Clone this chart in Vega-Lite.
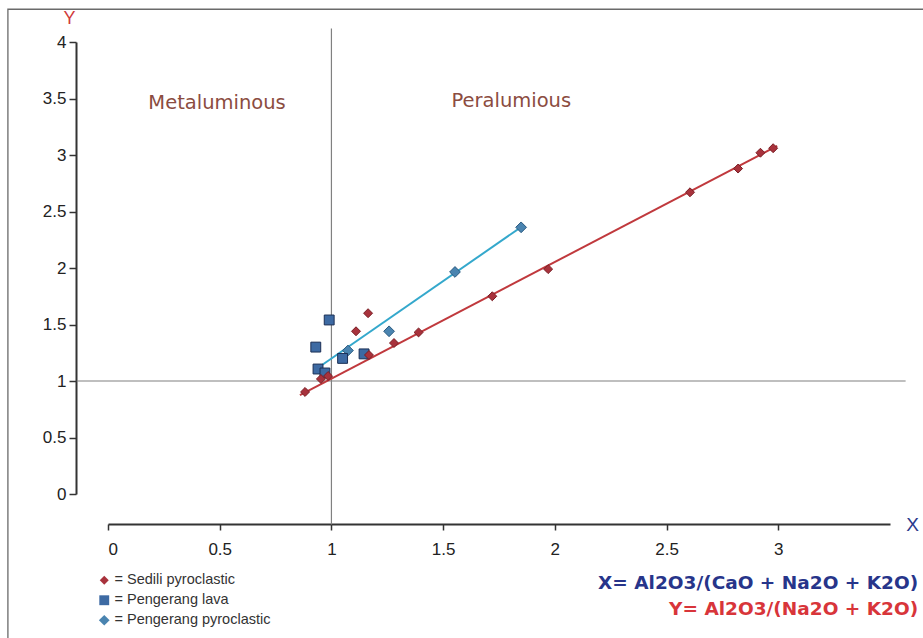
{
  "$schema": "https://vega.github.io/schema/vega-lite/v6.json",
  "width": 782,
  "height": 452,
  "autosize": "none",
  "padding": {"left": 108, "top": 42, "right": 33, "bottom": 144},
  "background": "white",
  "config": {"view": {"stroke": null}, "font": "Liberation Sans"},
  "datasets": {
    "pts": [
      {"s": "Pengerang pyroclastic", "x": 1.074, "y": 1.27},
      {"s": "Pengerang pyroclastic", "x": 1.258, "y": 1.44},
      {"s": "Pengerang pyroclastic", "x": 1.553, "y": 1.965},
      {"s": "Pengerang pyroclastic", "x": 1.849, "y": 2.36},
      {"s": "Pengerang lava", "x": 0.99, "y": 1.54},
      {"s": "Pengerang lava", "x": 0.93, "y": 1.30},
      {"s": "Pengerang lava", "x": 0.94, "y": 1.106},
      {"s": "Pengerang lava", "x": 1.05, "y": 1.20},
      {"s": "Pengerang lava", "x": 1.146, "y": 1.24},
      {"s": "Pengerang lava", "x": 0.971, "y": 1.071},
      {"s": "Sedili pyroclastic", "x": 0.882, "y": 0.903},
      {"s": "Sedili pyroclastic", "x": 0.953, "y": 1.018},
      {"s": "Sedili pyroclastic", "x": 0.985, "y": 1.044},
      {"s": "Sedili pyroclastic", "x": 1.168, "y": 1.23},
      {"s": "Sedili pyroclastic", "x": 1.28, "y": 1.336},
      {"s": "Sedili pyroclastic", "x": 1.39, "y": 1.43},
      {"s": "Sedili pyroclastic", "x": 1.72, "y": 1.75},
      {"s": "Sedili pyroclastic", "x": 1.97, "y": 1.99},
      {"s": "Sedili pyroclastic", "x": 2.605, "y": 2.67},
      {"s": "Sedili pyroclastic", "x": 2.82, "y": 2.88},
      {"s": "Sedili pyroclastic", "x": 2.92, "y": 3.02},
      {"s": "Sedili pyroclastic", "x": 2.977, "y": 3.06},
      {"s": "Sedili pyroclastic", "x": 1.11, "y": 1.44},
      {"s": "Sedili pyroclastic", "x": 1.164, "y": 1.60}
    ],
    "fits": [
      {"s": "Sedili pyroclastic", "x": 0.859, "y": 0.876},
      {"s": "Sedili pyroclastic", "x": 2.995, "y": 3.08},
      {"s": "Pengerang pyroclastic", "x": 0.958, "y": 1.142},
      {"s": "Pengerang pyroclastic", "x": 1.862, "y": 2.38}
    ],
    "fields": [
      {"t": "Metaluminous", "x": 0.488, "y": 3.46},
      {"t": "Peralumious", "x": 1.805, "y": 3.48}
    ]
  },
  "layer": [
    {
      "data": {"values": [{"x": 1, "y": -0.27, "y2": 4.12}]},
      "mark": {"type": "rule", "color": "#808080", "strokeWidth": 1.2},
      "encoding": {
        "x": {
          "field": "x", "type": "quantitative",
          "scale": {"domain": [0, 3.5], "nice": false, "zero": false},
          "axis": {
            "orient": "bottom", "offset": 30, "grid": false,
            "values": [0, 0.5, 1, 1.5, 2, 2.5, 3], "format": "~g",
            "domainColor": "#333", "domainWidth": 2,
            "tickColor": "#333", "tickWidth": 1.5, "tickSize": 6,
            "labelFont": "Liberation Sans", "labelFontSize": 17, "labelColor": "#222", "labelPadding": 11,
            "title": "X", "titleAngle": 0, "titleX": 804, "titleY": 0,
            "titleAlign": "center", "titleBaseline": "middle",
            "titleColor": "#2a3a8c", "titleFontSize": 19, "titleFontWeight": "normal"
          }
        },
        "y": {
          "field": "y", "type": "quantitative",
          "scale": {"domain": [0, 4], "nice": false, "zero": false},
          "axis": {
            "orient": "left", "offset": 32, "grid": false,
            "values": [0, 0.5, 1, 1.5, 2, 2.5, 3, 3.5, 4], "format": "~g",
            "domainColor": "#333", "domainWidth": 2,
            "tickColor": "#333", "tickWidth": 1.5, "tickSize": 7,
            "labelFont": "Liberation Sans", "labelFontSize": 17, "labelColor": "#222", "labelPadding": 3,
            "title": "Y", "titleAngle": 0, "titleX": -7, "titleY": -24,
            "titleAlign": "center", "titleBaseline": "middle",
            "titleColor": "#d03a3a", "titleFontSize": 18, "titleFontWeight": "normal"
          }
        },
        "y2": {"field": "y2"}
      }
    },
    {
      "data": {"values": [{"y": 1, "x": -0.14, "x2": 3.57}]},
      "mark": {"type": "rule", "color": "#808080", "strokeWidth": 1.2},
      "encoding": {
        "x": {"field": "x", "type": "quantitative"},
        "x2": {"field": "x2"},
        "y": {"field": "y", "type": "quantitative"}
      }
    },
    {
      "data": {"values": [{"x": -0.448, "x2": 3.95, "y": 4.29, "y2": -1.6}]},
      "mark": {"type": "rect", "fill": null, "fillOpacity": 0, "stroke": "#6a6a6a", "strokeWidth": 1.3},
      "encoding": {
        "x": {"field": "x", "type": "quantitative"},
        "x2": {"field": "x2"},
        "y": {"field": "y", "type": "quantitative"},
        "y2": {"field": "y2"}
      }
    },
    {
      "data": {"name": "fits"},
      "transform": [{"filter": "datum.s === 'Sedili pyroclastic'"}],
      "mark": {"type": "line", "color": "#c0393d", "strokeWidth": 2},
      "encoding": {
        "x": {"field": "x", "type": "quantitative"},
        "y": {"field": "y", "type": "quantitative"}
      }
    },
    {
      "data": {"name": "fits"},
      "transform": [{"filter": "datum.s === 'Pengerang pyroclastic'"}],
      "mark": {"type": "line", "color": "#34a8cc", "strokeWidth": 2},
      "encoding": {
        "x": {"field": "x", "type": "quantitative"},
        "y": {"field": "y", "type": "quantitative"}
      }
    },
    {
      "data": {"name": "pts"},
      "mark": {"type": "point", "filled": true, "opacity": 1, "strokeWidth": 1},
      "encoding": {
        "x": {"field": "x", "type": "quantitative"},
        "y": {"field": "y", "type": "quantitative"},
        "color": {
          "field": "s", "type": "nominal",
          "scale": {"domain": ["Sedili pyroclastic", "Pengerang lava", "Pengerang pyroclastic"], "range": ["#a8323c", "#3d6aa3", "#4a84b0"]},
          "legend": {
            "orient": "none", "legendX": -11, "legendY": 531, "title": null,
            "labelExpr": "'= ' + datum.label",
            "labelFont": "Liberation Sans", "labelFontSize": 14.5, "labelColor": "#333",
            "symbolSize": 55, "rowPadding": 5, "labelOffset": 3, "symbolStrokeWidth": 0
          }
        },
        "shape": {
          "field": "s", "type": "nominal",
          "scale": {"domain": ["Sedili pyroclastic", "Pengerang lava", "Pengerang pyroclastic"], "range": ["diamond", "square", "diamond"]}
        },
        "stroke": {
          "field": "s", "type": "nominal",
          "scale": {"domain": ["Sedili pyroclastic", "Pengerang lava", "Pengerang pyroclastic"], "range": ["#7a1f25", "#1b2f55", "#2a5a80"]},
          "legend": null
        },
        "size": {
          "field": "s", "type": "nominal",
          "scale": {"domain": ["Sedili pyroclastic", "Pengerang lava", "Pengerang pyroclastic"], "range": [80, 115, 80]},
          "legend": null
        }
      }
    },
    {
      "data": {"name": "fields"},
      "mark": {"type": "text", "color": "#8b4c3f", "fontSize": 19.5, "font": "DejaVu Sans", "align": "center", "baseline": "middle"},
      "encoding": {
        "x": {"field": "x", "type": "quantitative"},
        "y": {"field": "y", "type": "quantitative"},
        "text": {"field": "t"}
      }
    },
    {
      "data": {"values": [{"t": "X= Al2O3/(CaO + Na2O + K2O)", "x": 3.626, "y": -0.788}]},
      "mark": {"type": "text", "color": "#27358a", "fontSize": 18.5, "fontWeight": "bold", "font": "DejaVu Sans", "align": "right", "baseline": "middle"},
      "encoding": {
        "x": {"field": "x", "type": "quantitative"},
        "y": {"field": "y", "type": "quantitative"},
        "text": {"field": "t"}
      }
    },
    {
      "data": {"values": [{"t": "Y= Al2O3/(Na2O + K2O)", "x": 3.626, "y": -1.018}]},
      "mark": {"type": "text", "color": "#d8353a", "fontSize": 18.5, "fontWeight": "bold", "font": "DejaVu Sans", "align": "right", "baseline": "middle"},
      "encoding": {
        "x": {"field": "x", "type": "quantitative"},
        "y": {"field": "y", "type": "quantitative"},
        "text": {"field": "t"}
      }
    }
  ]
}
